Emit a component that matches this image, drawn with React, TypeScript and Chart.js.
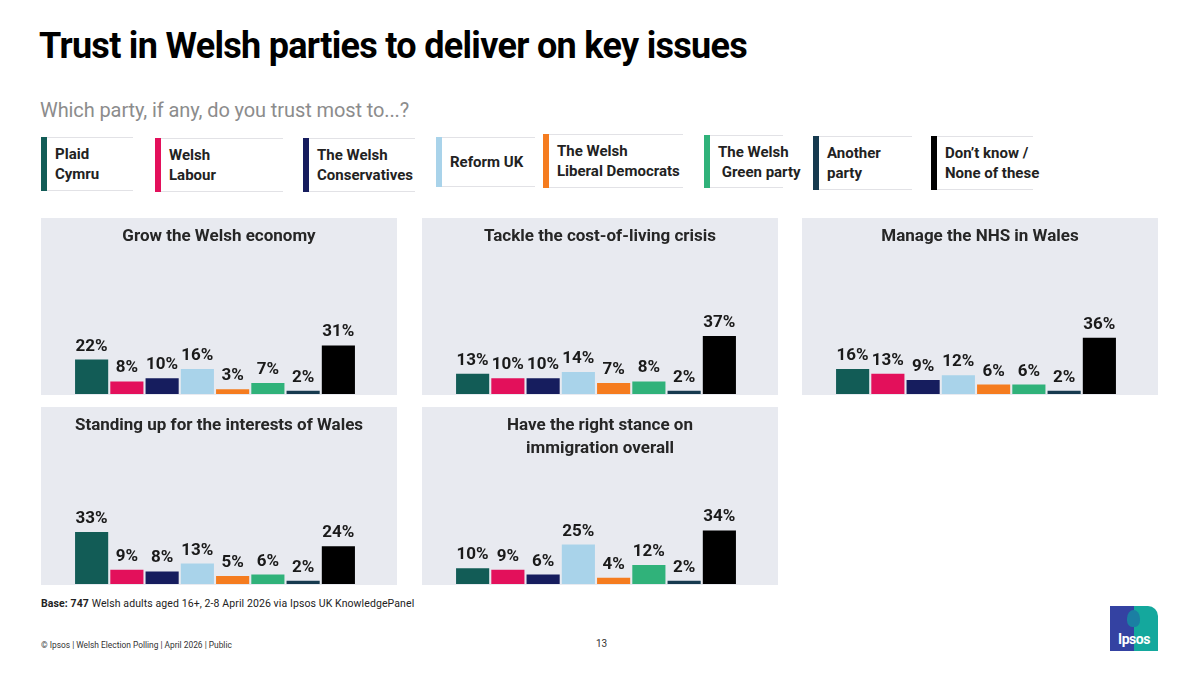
import { useEffect, useRef } from "react";
import { Chart, registerables } from "chart.js";

Chart.register(...registerables);

const parties = [
  "Plaid Cymru",
  "Welsh Labour",
  "The Welsh Conservatives",
  "Reform UK",
  "The Welsh Liberal Democrats",
  "The Welsh Green party",
  "Another party",
  "Don’t know / None of these",
];
const legendLines = [
  ["Plaid", "Cymru"],
  ["Welsh", "Labour"],
  ["The Welsh", "Conservatives"],
  ["Reform UK"],
  ["The Welsh", "Liberal Democrats"],
  ["The Welsh", "\u00a0Green party"],
  ["Another", "party"],
  ["Don’t know /", "None of these"],
];
const partyColors = [
  "#125c56",
  "#e3105b",
  "#161d5e",
  "#a9d3ea",
  "#f57c1f",
  "#30b27a",
  "#163a4f",
  "#000000",
];

const growEconomy = [22, 8, 10, 16, 3, 7, 2, 31];
const costOfLiving = [13, 10, 10, 14, 7, 8, 2, 37];
const manageNhs = [16, 13, 9, 12, 6, 6, 2, 36];
const standingUp = [33, 9, 8, 13, 5, 6, 2, 24];
const immigration = [10, 9, 6, 25, 4, 12, 2, 34];

const panelTitles = [
  ["Grow the Welsh economy"],
  ["Tackle the cost-of-living crisis"],
  ["Manage the NHS in Wales"],
  ["Standing up for the interests of Wales"],
  ["Have the right stance on", "immigration overall"],
];

// legend layout: bar x, bar top, bar bottom, line end x
const legendBoxes = [
  [41, 137, 191, 133],
  [155, 138, 192, 283],
  [303, 138, 192, 415],
  [436, 137, 187, 535],
  [543, 134, 188, 683],
  [704, 135, 188, 783],
  [813, 136, 190, 912],
  [931, 136, 190, 1033],
];

const FONT = "Roboto, 'Noto Sans', sans-serif";

interface PanelProps {
  title: string[];
  values: number[];
  left: number;
  top: number;
  height: number;
}

function Panel({ title, values, left, top, height }: PanelProps) {
  const canvasRef = useRef<HTMLCanvasElement | null>(null);

  useEffect(() => {
    if (!canvasRef.current) return;
    const ctx = canvasRef.current.getContext("2d");
    if (!ctx) return;

    const chart = new Chart(ctx, {
      type: "bar",
      data: {
        labels: parties,
        datasets: [
          {
            data: values,
            backgroundColor: partyColors,
            barPercentage: 0.94,
            categoryPercentage: 1,
          },
        ],
      },
      options: {
        animation: false,
        responsive: false,
        maintainAspectRatio: false,
        layout: { padding: { left: 33, right: 41, top: 43, bottom: 1 } },
        scales: {
          x: { display: false },
          y: { display: false, min: 0, max: 85 },
        },
        plugins: {
          legend: { display: false },
          title: { display: false },
          tooltip: { enabled: false },
        },
      },
      plugins: [
        {
          id: "panelText",
          afterDatasetsDraw(c) {
            const g = c.ctx;
            g.save();
            g.fillStyle = "#262626";
            g.textAlign = "center";
            g.textBaseline = "middle";
            g.font = `bold 17px ${FONT}`;
            title.forEach((line, i) => {
              g.fillText(line, c.width / 2, 19 + i * 23);
            });
            g.fillStyle = "#1a1a1a";
            g.font = `bold 17px ${FONT}`;
            g.textBaseline = "alphabetic";
            c.getDatasetMeta(0).data.forEach((bar, i) => {
              g.fillText(`${values[i]}%`, bar.x, bar.y - 9);
            });
            g.restore();
          },
        },
      ],
    });

    return () => {
      chart.destroy();
    };
  }, [title, values]);

  return (
    <div
      style={{
        position: "absolute",
        left,
        top,
        width: 356,
        height,
        background: "#e8eaf0",
      }}
    >
      <canvas ref={canvasRef} width={356} height={height} style={{ display: "block" }} />
    </div>
  );
}

export default function App() {
  return (
    <div
      style={{
        position: "absolute",
        left: 0,
        top: 0,
        width: 1200,
        height: 674,
        background: "#ffffff",
        fontFamily: FONT,
        overflow: "hidden",
      }}
    >
      <div
        style={{
          position: "absolute",
          left: 39,
          top: 25,
          fontSize: 36,
          fontWeight: 700,
          color: "#000",
          letterSpacing: -0.7,
          whiteSpace: "nowrap",
        }}
      >
        Trust in Welsh parties to deliver on key issues
      </div>
      <div
        style={{
          position: "absolute",
          left: 40,
          top: 98,
          fontSize: 20,
          color: "#8c8c8c",
          whiteSpace: "nowrap",
          letterSpacing: -0.1,
        }}
      >
        Which party, if any, do you trust most to...?
      </div>

      {legendBoxes.map(([x, y0, y1, x1], i) => {
        const lines = legendLines[i];
        const mid = (y0 + y1) / 2;
        return (
          <div key={i}>
            <div
              style={{
                position: "absolute",
                left: x,
                top: y0,
                width: 6,
                height: y1 - y0,
                background: partyColors[i],
              }}
            />
            <div
              style={{
                position: "absolute",
                left: x + 6,
                top: y0,
                width: x1 - x - 6,
                height: y1 - y0 - 2,
                borderTop: "1px solid #e2e2e6",
                borderBottom: "1px solid #e2e2e6",
              }}
            />
            <div
              style={{
                position: "absolute",
                left: x + 14,
                top: mid - lines.length * 10,
                fontSize: 15,
                fontWeight: 700,
                lineHeight: "20px",
                color: "#222",
                whiteSpace: "pre",
              }}
            >
              {lines.join("\n")}
            </div>
          </div>
        );
      })}

      <Panel title={panelTitles[0]} values={growEconomy} left={41} top={218} height={177} />
      <Panel title={panelTitles[1]} values={costOfLiving} left={422} top={218} height={177} />
      <Panel title={panelTitles[2]} values={manageNhs} left={802} top={218} height={177} />
      <Panel title={panelTitles[3]} values={standingUp} left={41} top={407} height={178} />
      <Panel title={panelTitles[4]} values={immigration} left={422} top={407} height={178} />

      <div
        style={{
          position: "absolute",
          left: 41,
          top: 597,
          fontSize: 10.5,
          color: "#222",
          whiteSpace: "nowrap",
          letterSpacing: 0.1,
        }}
      >
        <b>Base: 747</b> Welsh adults aged 16+, 2-8 April 2026 via Ipsos UK KnowledgePanel
      </div>
      <div
        style={{
          position: "absolute",
          left: 41,
          top: 640,
          fontSize: 8.4,
          color: "#333",
          whiteSpace: "nowrap",
        }}
      >
        © Ipsos | Welsh Election Polling | April 2026 | Public
      </div>
      <div
        style={{
          position: "absolute",
          left: 596,
          top: 638,
          fontSize: 10,
          color: "#333",
        }}
      >
        13
      </div>

      <div
        style={{
          position: "absolute",
          left: 1110,
          top: 606,
          width: 48,
          height: 45,
          background: "#14a89d",
          borderTopRightRadius: 10,
          overflow: "hidden",
        }}
      >
        <div
          style={{
            position: "absolute",
            left: 0,
            top: 0,
            width: 24,
            height: 45,
            background: "#3442a2",
          }}
        />
        <div
          style={{
            position: "absolute",
            left: 17,
            top: 4,
            width: 13,
            height: 17,
            borderRadius: "50% 50% 40% 40%",
            background: "#1b7fa3",
          }}
        />
        <div
          style={{
            position: "absolute",
            left: 0,
            width: 48,
            top: 25,
            textAlign: "center",
            color: "#fff",
            fontWeight: 700,
            fontSize: 14,
            letterSpacing: -0.5,
          }}
        >
          Ipsos
        </div>
      </div>
    </div>
  );
}
